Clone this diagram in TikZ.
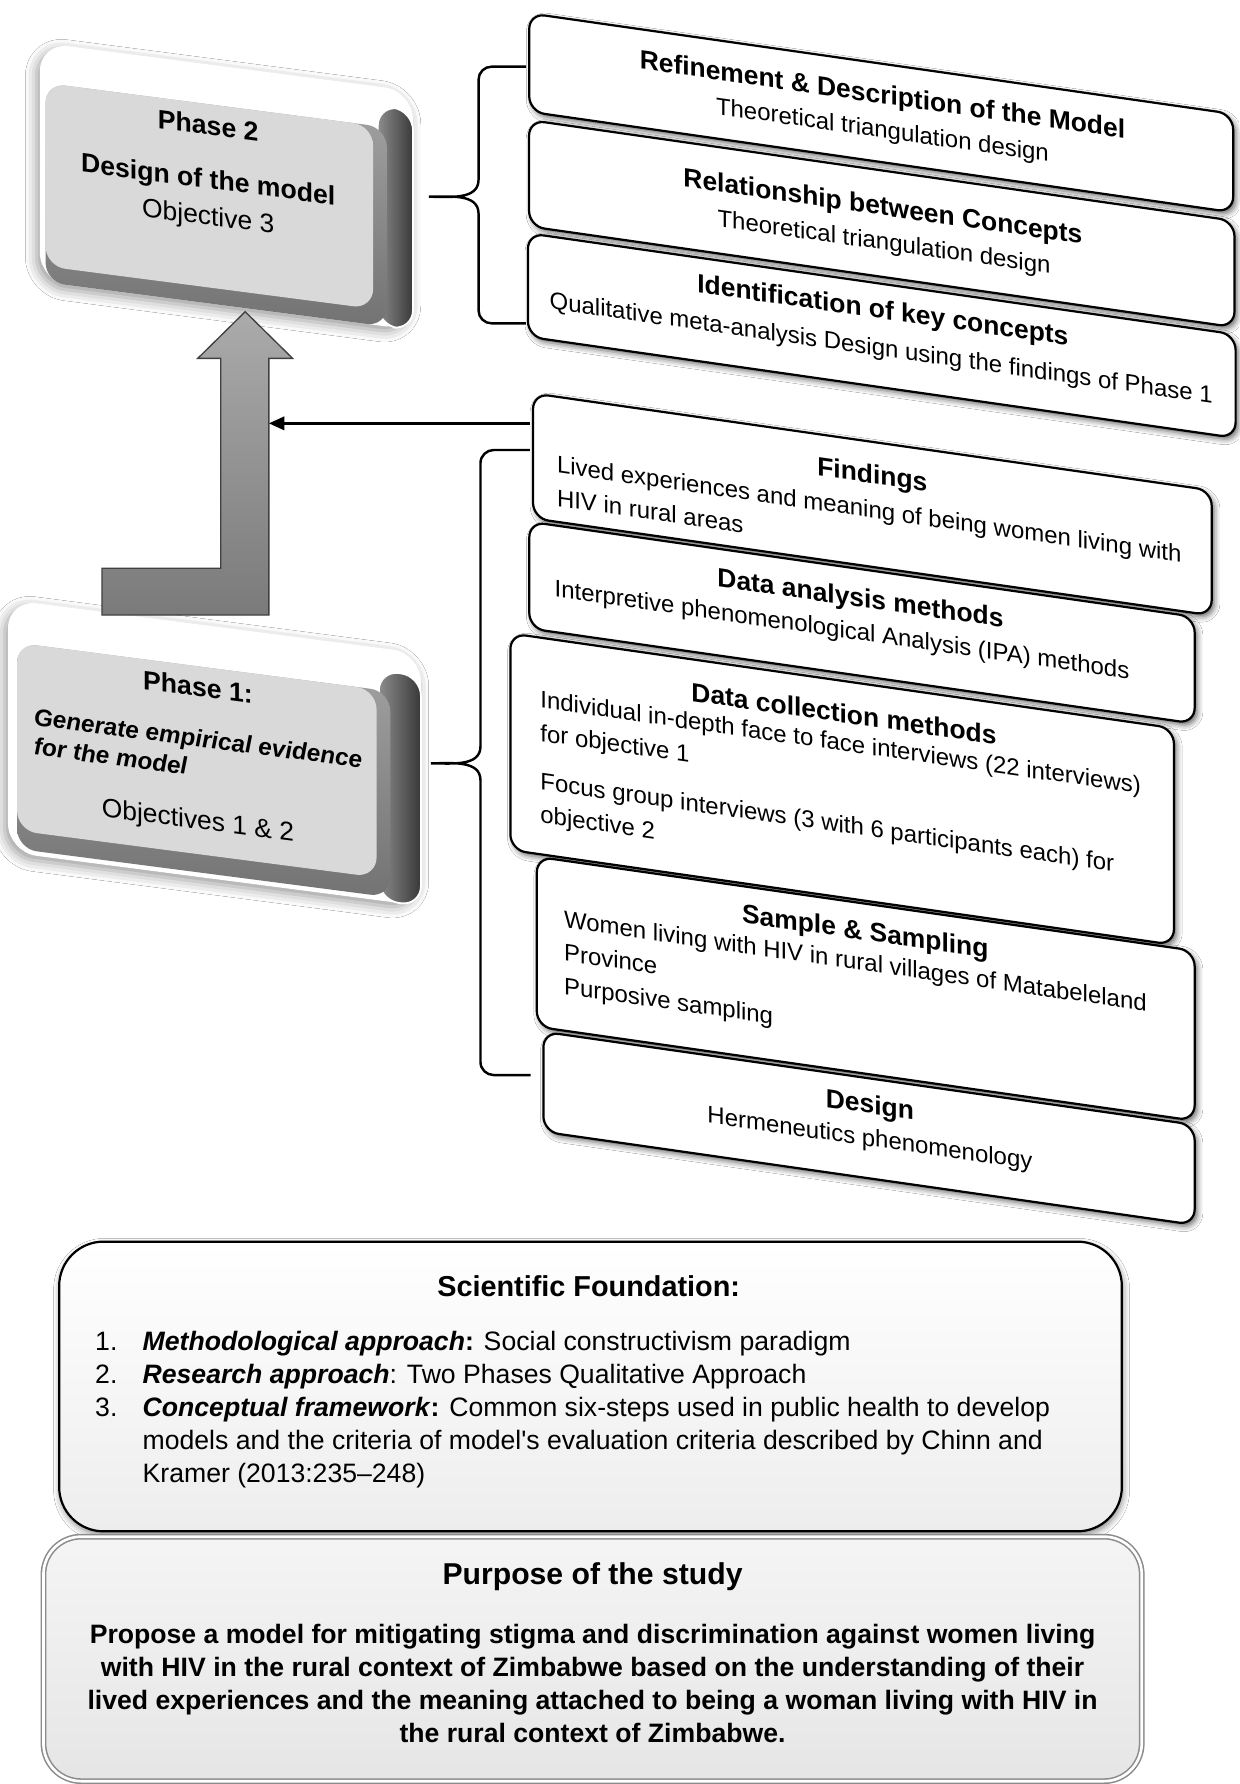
\documentclass[tikz,border=0pt]{standalone}
\usepackage{fontspec}
\setmainfont{Liberation Sans}
\usetikzlibrary{arrows.meta,shadows.blur}

% one unit = one pixel of the drawing
\def\pxu{0.513pt}

\tikzset{
  rbox/.style={draw, fill=white, line width=1pt, rounded corners=7pt, inner sep=0pt,
    blur shadow={shadow xshift=1.2pt, shadow yshift=-1.5pt, shadow blur radius=2.5pt, shadow opacity=60}},
  rhead/.style={inner sep=0pt, font=\fontsize{11.9}{14}\selectfont\bfseries},
  rtext/.style={inner sep=0pt, align=left, font=\fontsize{10.8}{15}\selectfont},
  plate/.style={fill=white, rounded corners=13pt, inner sep=0pt,
    blur shadow={shadow xshift=-1.5pt, shadow yshift=-2pt, shadow blur radius=5pt, shadow opacity=40}},
  pside/.style={left color=black!45, right color=black!78, draw=white, line width=0.8pt, rounded corners=9pt, inner sep=0pt},
  prim/.style={top color=black!35, bottom color=black!55, rounded corners=9pt, inner sep=0pt},
  pface/.style={fill=black!15, rounded corners=9pt, inner sep=0pt},
  phead/.style={inner sep=0pt, font=\fontsize{12}{14}\selectfont\bfseries},
  ptext/.style={inner sep=0pt, font=\fontsize{11.9}{14}\selectfont},
  bracepath/.style={line width=1.1pt},
  uparrow/.style={draw=black!75, line width=0.6pt, top color=black!33, bottom color=black!52},
  fbox/.style={draw, line width=1pt, rounded corners=20pt, top color=white, bottom color=black!7, inner sep=0pt,
    blur shadow={shadow xshift=0.5pt, shadow yshift=-1.5pt, shadow blur radius=3pt, shadow opacity=50}},
  pbox/.style={draw=black!45, line width=0.7pt, double=white, double distance=1.2pt, rounded corners=17pt,
    top color=black!4, bottom color=black!10, inner sep=0pt},
}

\begin{document}
\begin{tikzpicture}[x=\pxu, y=\pxu]
\useasboundingbox (0,0) rectangle (1089,-1568);
\fill[white] (0,0) rectangle (1089,-1568);

% phase 2
\begin{scope}[shift={(40,0)}, yslant=-0.13, transform shape]
  \node[plate, minimum width=328*\pxu, minimum height=210*\pxu] (ph2plate) at (159,-143) {};
  \node[pside, minimum width=31*\pxu, minimum height=193*\pxu] (ph2side) at (307.5,-151.5) {};
  \node[prim, minimum width=300*\pxu, minimum height=175*\pxu] (ph2rim) at (150,-160.5) {};
  \node[pface, minimum width=288*\pxu, minimum height=161*\pxu] (ph2face) at (144,-153.5) {};
  \node[phead] (ph2T) at (143,-91.3) {Phase 2};
  \node[phead] (ph2S) at (143,-141.1) {Design of the model};
  \node[ptext] (ph2O) at (143,-173.3) {Objective 3};
\end{scope}

% phase 1
\begin{scope}[shift={(15,0)}, yslant=-0.13, transform shape]
  \node[plate, minimum width=363*\pxu, minimum height=222*\pxu] (ph1plate) at (173.5,-639) {};
  \node[pside, minimum width=37*\pxu, minimum height=202*\pxu] (ph1side) at (336.5,-649) {};
  \node[prim, minimum width=328*\pxu, minimum height=181*\pxu] (ph1rim) at (164,-655.5) {};
  \node[pface, minimum width=316*\pxu, minimum height=165*\pxu] (ph1face) at (158,-647.5) {};
  \node[phead] (ph1T) at (159,-582.9) {Phase 1:};
  \node[inner sep=0pt, anchor=west, align=left, font=\fontsize{10.9}{13.3}\selectfont\bfseries\itshape]
    (ph1S) at (14.6,-641) {Generate empirical evidence\\for the model};
  \node[ptext] (ph1O) at (159,-702) {Objectives 1 \& 2};
\end{scope}

% block arrow from phase 1 up to phase 2
\path[uparrow] (215.5,-274) -- (257.2,-315) -- (236.3,-315) -- (236.3,-540.6)
  -- (89.7,-540.6) -- (89.7,-499.5) -- (194,-499.5) -- (194,-315) -- (173.8,-315) -- cycle;

% braces
\coordinate (br2top) at (462.3,-58.6);
\coordinate (br2tip) at (377,-172.9);
\coordinate (br2bot) at (462.3,-284.2);
\draw[bracepath] (br2top) -- (432,-58.6) to[out=180,in=90] (420.6,-70) -- (420.6,-158)
  to[out=-90,in=0] (br2tip) to[out=0,in=90] (420.6,-187.8) -- (420.6,-272.8)
  to[out=-90,in=180] (432,-284.2) -- (br2bot);
\coordinate (br1top) at (465.7,-395.5);
\coordinate (br1tip) at (378.8,-670.9);
\coordinate (br1bot) at (466.4,-944.9);
\draw[bracepath] (br1top) -- (434,-395.5) to[out=180,in=90] (422.3,-407) -- (422.3,-656)
  to[out=-90,in=0] (br1tip) to[out=0,in=90] (422.3,-685.8) -- (422.3,-933.4)
  to[out=-90,in=180] (434,-944.9) -- (br1bot);

% findings feed back into the arrow
\coordinate (findout) at (465.7,-372.1);
\coordinate (shaftR) at (236.3,-372.1);
\draw[line width=1.2pt, -{Triangle[length=7pt,width=6pt]}] (findout) -- (shaftR);

% stacked steps
\begin{scope}[shift={(460,0)}, yslant=-0.143, transform shape]
  \node[rbox, minimum width=618.7*\pxu, minimum height=86.5*\pxu] (refine) at (314.5,-54.2) {};
  \node[rhead] (refineT) at (315.6,-39.9) {Refinement \& Description of the Model};
  \node[rtext] (refineS) at (315.6,-70.6) {Theoretical triangulation design};

  \node[rbox, minimum width=620*\pxu, minimum height=93.5*\pxu] (relate) at (315,-151.5) {};
  \node[rhead] (relateT) at (316,-138) {Relationship between Concepts};
  \node[rtext] (relateS) at (317,-169) {Theoretical triangulation design};

  \node[rbox, minimum width=622*\pxu, minimum height=91*\pxu] (identify) at (315,-249.9) {};
  \node[rhead] (identifyT) at (316,-229) {Identification of key concepts};
  \node[rtext] (identifyS) at (314.5,-262.6) {Qualitative meta-analysis Design using the findings of Phase 1};

  \node[rbox, minimum width=596.5*\pxu, minimum height=109.9*\pxu] (findings) at (306.75,-399.45) {};
  \node[rhead] (findingsT) at (306.7,-375.1) {Findings};
  \node[rtext, anchor=west] (findingsS) at (29.2,-418.5)
    {Lived experiences and meaning of being women living with\\HIV in rural areas};

  \node[rbox, minimum width=584.8*\pxu, minimum height=93.8*\pxu] (analysis) at (297.6,-504.7) {};
  \node[rhead] (analysisT) at (296.3,-485) {Data analysis methods};
  \node[rtext, anchor=west] (analysisS) at (27.1,-515)
    {Interpretive phenomenological Analysis (IPA) methods};

  \node[rbox, minimum width=583.2*\pxu, minimum height=190.4*\pxu] (collect) at (280.2,-653.5) {};
  \node[rhead] (collectT) at (281.8,-586.7) {Data collection methods};
  \node[rtext, anchor=west] (collectS) at (14.6,-665)
    {Individual in-depth face to face interviews (22 interviews)\\for objective 1\\[6.8pt]
     Focus group interviews (3 with 6 participants each) for\\objective 2};

  \node[rbox, minimum width=578.2*\pxu, minimum height=149.4*\pxu] (sample) at (300.9,-826) {};
  \node[rhead] (sampleT) at (300.5,-777.4) {Sample \& Sampling};
  \node[rtext, anchor=west] (sampleS) at (35.4,-834)
    {Women living with HIV in rural villages of Matabeleland\\Province\\Purposive sampling};

  \node[rbox, minimum width=572.4*\pxu, minimum height=87.9*\pxu] (design) at (303.8,-948.25) {};
  \node[rhead] (designT) at (304.6,-929.1) {Design};
  \node[rtext] (designS) at (304.6,-958.4) {Hermeneutics phenomenology};
\end{scope}

% scientific foundation
\node[fbox, minimum width=934*\pxu, minimum height=254.6*\pxu] (found) at (519,-1218.6) {};
\node[inner sep=0pt, font=\fontsize{13}{15}\selectfont\bfseries] (foundT) at (517.4,-1130.8) {Scientific Foundation:};
\node[inner sep=0pt, anchor=west, align=left, font=\fontsize{12}{14.8}\selectfont] (foundL) at (83.3,-1239)
  {\makebox[21.4pt][l]{1.}\textbf{\textit{Methodological approach}:} Social constructivism paradigm\\
   \makebox[21.4pt][l]{2.}\textbf{\textit{Research approach}}: Two Phases Qualitative Approach\\
   \makebox[21.4pt][l]{3.}\textbf{\textit{Conceptual framework}:} Common six-steps used in public health to develop\\
   \hspace*{21.4pt}models and the criteria of model\textquotesingle s evaluation criteria described by Chinn and\\
   \hspace*{21.4pt}Kramer (2013:235--248)};

% purpose
\node[pbox, minimum width=965.3*\pxu, minimum height=214.9*\pxu] (purpose) at (520.85,-1458.05) {};
\node[inner sep=0pt, font=\fontsize{13.6}{15}\selectfont\bfseries] (purposeT) at (520.8,-1385.4) {Purpose of the study};
\node[inner sep=0pt, align=center, font=\fontsize{12}{14.9}\selectfont\bfseries] (purposeS) at (520.8,-1479.4)
  {Propose a model for mitigating stigma and discrimination against women living\\
   with HIV in the rural context of Zimbabwe based on the understanding of their\\
   lived experiences and the meaning attached to being a woman living with HIV in\\
   the rural context of Zimbabwe.};
\end{tikzpicture}
\end{document}
